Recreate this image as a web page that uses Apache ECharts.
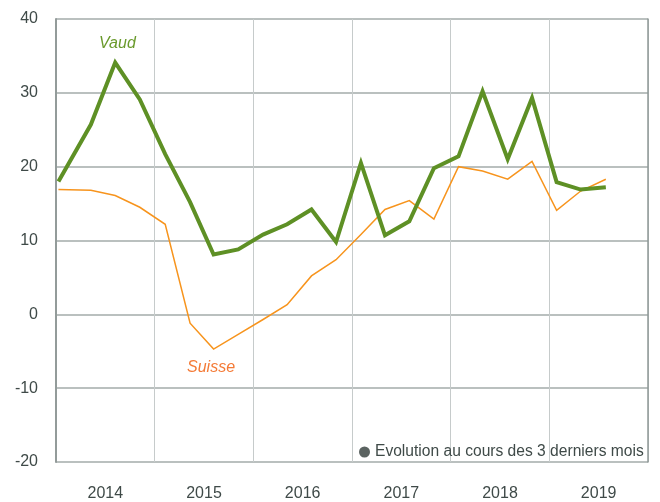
<!DOCTYPE html>
<html>
<head>
<meta charset="utf-8">
<script src="https://cdn.jsdelivr.net/npm/echarts@6/dist/echarts.min.js"></script>
<style>
  html, body { margin: 0; padding: 0; background: #fff; }
  #chart { width: 660px; height: 502px; }
</style>
</head>
<body>
<div id="chart"></div>
<script>
// dates des enquêtes (trimestrielles)
var dates = ['2014-01-10', '2014-05-10', '2014-08-08', '2014-11-07',
    '2015-02-09', '2015-05-12', '2015-08-07', '2015-11-06',
    '2016-02-06', '2016-05-05', '2016-08-03', '2016-11-02',
    '2017-02-03', '2017-05-03', '2017-08-01', '2017-10-31',
    '2018-01-30', '2018-04-29', '2018-07-31', '2018-10-29',
    '2019-01-28', '2019-04-27', '2019-07-29'];
var years = ['2014', '2015', '2016', '2017', '2018', '2019'];
var vaud = [18.0, 25.7, 34.1, 29.1, 21.7, 15.2, 8.1, 8.8, 10.8, 12.2, 14.2, 9.8,
    20.5, 10.7, 12.6, 19.8, 21.4, 30.2, 21.0, 29.3, 17.9, 16.9, 17.2];
var suisse = [16.9, 16.8, 16.1, 14.5, 12.2, -1.2, -4.7, -2.7, -0.7, 1.3, 5.2, 7.4,
    10.8, 14.2, 15.4, 12.9, 20.0, 19.4, 18.3, 20.7, 14.1, 16.7, 18.3];
var legendName = 'Evolution au cours des 3 derniers mois';

var font = "'Liberation Sans', Arial, sans-serif";
var textColor = '#3f4a48';

// date -> année décimale pour l'axe des x
function toYear(d) {
    var p = d.split('-');
    var y = +p[0];
    var start = Date.UTC(y, 0, 1);
    var t = Date.UTC(y, +p[1] - 1, +p[2]);
    return y + (t - start) / (365 * 86400000);
}
function pairs(values) {
    return values.map(function (v, i) { return [toYear(dates[i]), v]; });
}

var myChart = echarts.init(document.getElementById('chart'), null, { renderer: 'canvas' });
myChart.setOption({
    animation: false,
    grid: { left: 56, right: 12, top: 19, bottom: 39 },
    legend: {
        left: 354,
        top: 439,
        icon: 'circle',
        itemWidth: 11,
        itemHeight: 11,
        itemGap: 5,
        selectedMode: false,
        data: [{ name: legendName, itemStyle: { color: '#323c3a' } }],
        textStyle: { color: textColor, fontSize: 15.6, fontFamily: font, padding: [0, 0, 0, 0] }
    },
    xAxis: [{
        type: 'value',
        min: 2014,
        max: 2020,
        interval: 1,
        axisLine: { show: false },
        axisTick: { show: false },
        axisLabel: { show: false },
        splitLine: { show: true, lineStyle: { color: '#c6cbcb', width: 1 } }
    }, {
        type: 'category',
        data: years,
        position: 'bottom',
        boundaryGap: true,
        axisLine: { show: false },
        axisTick: { show: false },
        splitLine: { show: false },
        axisLabel: { color: textColor, fontSize: 16, fontFamily: font, margin: 24 }
    }],
    yAxis: [{
        type: 'value',
        min: -20,
        max: 40,
        interval: 10,
        axisLine: { show: true, lineStyle: { color: '#939b9a', width: 2 } },
        axisTick: { show: false },
        axisLabel: { color: textColor, fontSize: 16, fontFamily: font, margin: 18 },
        splitLine: { show: true, lineStyle: { color: '#a3abaa', width: 1.5 } }
    }, {
        // bord droit du cadre
        type: 'value',
        position: 'right',
        min: -20,
        max: 40,
        interval: 10,
        axisLine: { show: true, lineStyle: { color: '#8f9897', width: 1.5 } },
        axisTick: { show: false },
        axisLabel: { show: false },
        splitLine: { show: false }
    }],
    graphic: [{
        type: 'text',
        left: 99,
        top: 36,
        style: { text: 'Vaud', fill: '#6a9a2c', font: 'italic 16px ' + font }
    }, {
        type: 'text',
        left: 187,
        top: 360,
        style: { text: 'Suisse', fill: '#f47a36', font: 'italic 16px ' + font }
    }],
    series: [{
        name: 'Suisse',
        type: 'line',
        xAxisIndex: 0,
        data: pairs(suisse),
        showSymbol: false,
        lineStyle: { color: '#f7941d', width: 1.5, join: 'miter' },
        itemStyle: { color: '#f7941d' }
    }, {
        name: 'Vaud',
        type: 'line',
        xAxisIndex: 0,
        data: pairs(vaud),
        showSymbol: false,
        lineStyle: { color: '#5e9025', width: 4, join: 'miter' },
        itemStyle: { color: '#5e9025' }
    }, {
        // série vide juste pour la légende
        name: legendName,
        type: 'scatter',
        data: [],
        itemStyle: { color: '#323c3a' }
    }]
});
</script>
</body>
</html>
